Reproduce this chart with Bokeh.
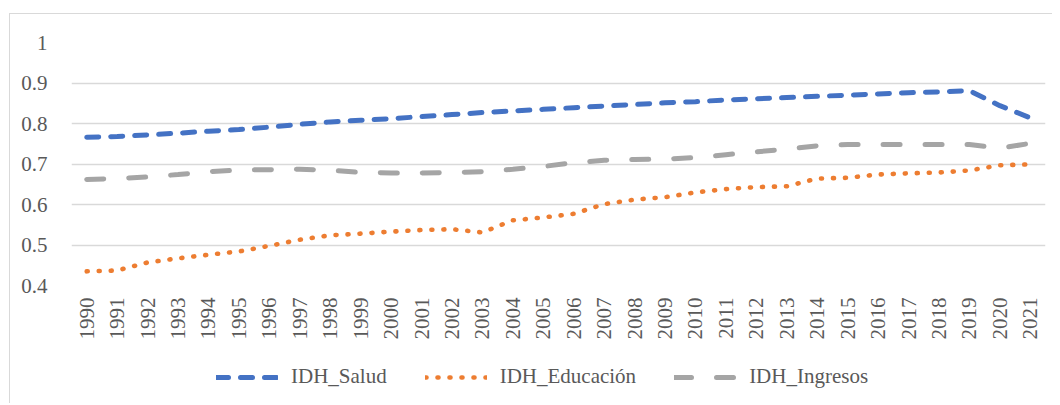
import math
from bokeh.plotting import figure
from bokeh.layouts import column
from bokeh.models import FactorRange, Range1d, FixedTicker, NumeralTickFormatter, Legend, LegendItem
from bokeh.embed import file_html
from bokeh.resources import INLINE

years = ["1990", "1991", "1992", "1993", "1994", "1995", "1996", "1997", "1998", "1999",
         "2000", "2001", "2002", "2003", "2004", "2005", "2006", "2007", "2008", "2009",
         "2010", "2011", "2012", "2013", "2014", "2015", "2016", "2017", "2018", "2019",
         "2020", "2021"]

idh_salud = [0.766, 0.768, 0.772, 0.776, 0.781, 0.785, 0.791, 0.798, 0.804, 0.808,
             0.812, 0.817, 0.822, 0.827, 0.831, 0.835, 0.839, 0.843, 0.847, 0.851,
             0.854, 0.858, 0.861, 0.864, 0.867, 0.870, 0.873, 0.876, 0.878, 0.881,
             0.844, 0.814]

idh_educacion = [0.435, 0.437, 0.457, 0.467, 0.476, 0.484, 0.498, 0.513, 0.524, 0.528,
                 0.533, 0.537, 0.539, 0.531, 0.561, 0.568, 0.577, 0.601, 0.612, 0.618,
                 0.630, 0.638, 0.643, 0.645, 0.664, 0.666, 0.674, 0.677, 0.679, 0.684,
                 0.697, 0.699]

idh_ingresos = [0.662, 0.664, 0.668, 0.674, 0.681, 0.685, 0.686, 0.687, 0.685, 0.679,
                0.678, 0.678, 0.679, 0.681, 0.687, 0.694, 0.703, 0.709, 0.711, 0.712,
                0.716, 0.723, 0.730, 0.737, 0.745, 0.748, 0.748, 0.748, 0.748, 0.748,
                0.739, 0.751]

series_names = ["IDH_Salud", "IDH_Educación", "IDH_Ingresos"]
y_ticks = [0.4, 0.5, 0.6, 0.7, 0.8, 0.9, 1.0]

FONT = "Liberation Serif"
TXT = "#595959"
STYLES = [dict(line_color="#4472C4", line_width=5, line_dash="12 12", line_cap="round"),
          dict(line_color="#ED7D31", line_width=4.6, line_dash="1 11", line_cap="round"),
          dict(line_color="#A5A5A5", line_width=5, line_dash="17 25", line_cap="round")]
SERIES = [idh_salud, idh_educacion, idh_ingresos]

p = figure(frame_width=974, frame_height=243,
           x_range=FactorRange(*years), y_range=Range1d(0.4, 1.0),
           output_backend="svg", toolbar_location=None,
           min_border_left=61, min_border_right=7, min_border_top=28, min_border_bottom=58)
p.outline_line_color = None
p.background_fill_color = "white"
p.border_fill_color = "white"

p.xgrid.grid_line_color = None
p.ygrid.grid_line_color = "#D9D9D9"
p.ygrid.grid_line_width = 1.5
p.ygrid.ticker = FixedTicker(ticks=y_ticks)

p.yaxis.ticker = FixedTicker(ticks=y_ticks)
p.yaxis.formatter = NumeralTickFormatter(format="0.[0]")
p.yaxis.axis_line_color = None
p.yaxis.major_tick_line_color = None
p.yaxis.minor_tick_line_color = None
p.yaxis.major_label_standoff = 18
p.yaxis.major_label_text_font = FONT
p.yaxis.major_label_text_font_size = "21px"
p.yaxis.major_label_text_color = TXT

p.xaxis.axis_line_color = None
p.xaxis.major_tick_line_color = None
p.xaxis.major_tick_out = 0
p.xaxis.major_tick_in = 0
p.xaxis.major_label_orientation = math.pi / 2
p.xaxis.major_label_standoff = 12
p.xaxis.major_label_text_font = FONT
p.xaxis.major_label_text_font_size = "21px"
p.xaxis.major_label_text_color = TXT

for vals, st in zip(SERIES, STYLES):
    p.line(years, vals, **st)

# legend strip below the chart (its own series lie outside its visible range)
pl = figure(width=1042, height=60, x_range=FactorRange(*years), y_range=Range1d(5, 6),
            x_axis_type=None, y_axis_type=None,
            output_backend="svg", toolbar_location=None, min_border=0)
pl.outline_line_color = None
pl.grid.visible = False
pl.background_fill_color = "white"
pl.border_fill_color = "white"
items = []
for name, vals, st in zip(series_names, SERIES, STYLES):
    r = pl.line(years, vals, **st)
    items.append(LegendItem(label=name, renderers=[r]))

legend = Legend(items=items, orientation="horizontal", location=(145, 14),
                border_line_color=None, background_fill_alpha=0,
                label_text_font=FONT, label_text_font_size="21px", label_text_color=TXT,
                glyph_width=62, label_standoff=13, spacing=38, padding=0, margin=0)
pl.add_layout(legend, "center")

layout = column(p, pl, spacing=0)
layout.styles = {"margin-left": "9px", "margin-top": "13px",
                 "border-left": "1px solid #D9D9D9", "border-top": "1px solid #D9D9D9"}

open("out.html", "w").write(file_html(layout, INLINE))
